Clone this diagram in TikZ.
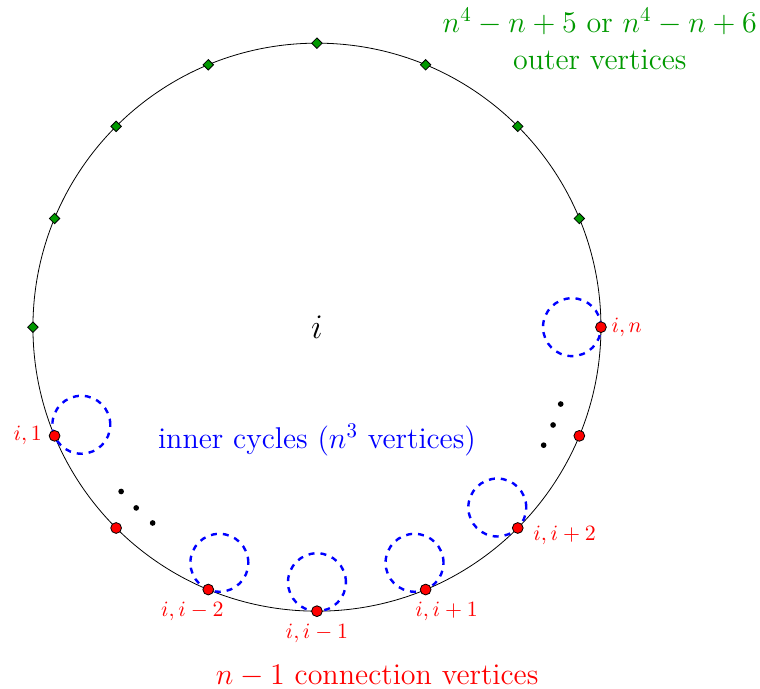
\documentclass[tikz,border=0pt]{standalone}
\usepackage{amsmath}
\usetikzlibrary{shapes.geometric, positioning}

\begin{document}
\begin{tikzpicture}[
    outer/.style={draw, diamond, fill=green!60!black, inner sep=0pt, minimum size=0.19cm},
    conn/.style={draw, circle, fill=red, inner sep=0pt, minimum size=0.19cm},
    cyc/.style={draw=blue, dashed, very thick},
    lab/.style={text=red, font=\fontsize{11pt}{13pt}\selectfont},
    note/.style={font=\Large, scale=1.045, transform shape}
]
    \useasboundingbox (-5.58,-6.36) rectangle (7.80,5.76);

    % main cycle
    \draw (0,0) circle (5);
    \node[font=\LARGE] (ci) at (0,0) {$i$};

    % inner cycles
    \foreach \k in {0,2,3,4,5,7}
        \draw[cyc] (-22.5*\k:4.49) circle (0.51);

    % omitted cycles
    \foreach \a in {-130,-135,-140,-17.5,-22.5,-27.5}
        \fill (\a:4.5) circle (0.05);

    % outer vertices
    \foreach \k in {1,...,8}
        \node[outer] (o\k) at (22.5*\k:5) {};

    % connection vertices
    \foreach \k in {0,...,7}
        \node[conn] (c\k) at (-22.5*\k:5) {};

    % vertex labels
    \node[lab, right=-0.04cm of c0] (lc0) {$i,n$};
    \node[lab, below right=-0.23cm and 0.08cm of c2] (lc2) {$i,i+2$};
    \node[lab, below=0cm of c3, xshift=0.37cm] (lc3) {$i,i+1$};
    \node[lab, below=0cm of c4] (lc4) {$i,i-1$};
    \node[lab, below=0cm of c5, xshift=-0.28cm] (lc5) {$i,i-2$};
    \node[lab, left=0cm of c7] (lc7) {$i,1$};

    % annotations
    \node[note, text=green!60!black, align=center] (nouter) at (4.98,5.07)
        {$n^4-n+5$ or $n^4-n+6$\\outer vertices};
    \node[note, text=blue] (ninner) at (0,-1.99) {inner cycles ($n^3$ vertices)};
    \node[note, text=red] (nconn) at (1.06,-6.14) {$n-1$ connection vertices};
\end{tikzpicture}
\end{document}
